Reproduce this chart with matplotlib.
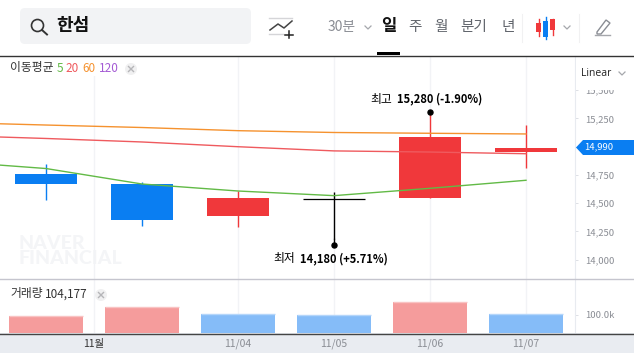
import numpy as np
import matplotlib
matplotlib.use("Agg")
import matplotlib.pyplot as plt
from matplotlib.patches import FancyBboxPatch, Rectangle, Polygon, Circle

plt.rcParams['font.family'] = ['Noto Sans CJK KR', 'DejaVu Sans']

# candles
days = [0, 1, 2, 3, 4, 5]
opens = [14760, 14670, 14390, 14540, 14550, 14950]
closes = [14670, 14350, 14550, 14540, 15090, 14990]
highs = [14850, 14690, 14610, 14600, 15280, 15190]
lows = [14530, 14300, 14290, 14180, 14550, 14810]
volumes = [93000, 143000, 105000, 100000, 170000, 104177]
volume_up = [True, True, False, False, True, False]

# moving averages, first point is the day before the visible range
ma_days = [-1, 0, 1, 2, 3, 4, 5]
ma5 = [14870, 14807, 14670, 14608, 14567, 14632, 14703]
ma20 = [15100, 15073, 15042, 15000, 14963, 14953, 14938]
ma60 = [15215, 15192, 15170, 15142, 15126, 15119, 15113]

price_ticks = [14000, 14250, 14500, 14750, 15000, 15250, 15500]
price_labels = ['14,000', '14,250', '14,500', '14,750', '', '15,250', '15,500']
date_ticks = [0.5, 2, 3, 4, 5]
date_labels = ['11월', '11/04', '11/05', '11/06', '11/07']

RED = '#f0383b'
BLUE = '#0a7ef2'
W, H = 634, 353


def axes_px(x0, y0, x1, y1, zorder):
    a = fig.add_axes([x0 / W, 1 - y1 / H, (x1 - x0) / W, (y1 - y0) / H], zorder=zorder)
    a.patch.set_alpha(0)
    return a


fig = plt.figure(figsize=(6.34, 3.53), dpi=100, facecolor='w')

# background, pixel coordinates
bg = axes_px(0, 0, W, H, 0)
bg.set_xlim(0, W)
bg.set_ylim(H, 0)
bg.axis('off')
bg.add_patch(Rectangle((0, 333), W, 20, color='#e9ecf1', lw=0))
bg.add_patch(FancyBboxPatch((20, 8), 231, 36, boxstyle='round,pad=0,rounding_size=5', lw=0, fc='#f2f3f5'))
bg.add_patch(Circle((37.5, 25.5), 6, fc='none', ec='#333333', lw=1.2))
bg.plot([42, 47], [30, 34.5], color='#333333', lw=1.4)
bg.text(56.5, 26, '한섬', fontsize=13, fontweight='bold', color='#111111', va='center', ha='left')

# add indicator icon
bg.plot([269, 292], [17.5, 17.5], color='#d5d5d8', lw=1)
bg.plot([269, 283], [33.5, 33.5], color='#d5d5d8', lw=1)
bg.plot([270, 278, 284, 292], [30, 24, 28, 21], color='#444444', lw=1.1)
bg.plot([288.5, 288.5], [31, 37.5], color='#222222', lw=1.1)
bg.plot([284.5, 292.5], [34.5, 34.5], color='#222222', lw=1.1)

# period tabs
bg.text(342, 27, '30분', fontsize=10, color='#8a8d94', ha='center', va='center')
bg.plot([365, 368, 371], [26, 29, 26], color='#a5a7ac', lw=0.9)
bg.text(388.5, 26, '일', fontsize=12, fontweight='bold', color='#111111', ha='center', va='center')
bg.text(415, 27, '주', fontsize=10.5, fontweight='medium', color='#60646b', ha='center', va='center')
bg.text(441, 27, '월', fontsize=10.5, fontweight='medium', color='#60646b', ha='center', va='center')
bg.text(474, 27, '분기', fontsize=10.5, fontweight='medium', color='#60646b', ha='center', va='center')
bg.text(508, 27, '년', fontsize=10.5, fontweight='medium', color='#60646b', ha='center', va='center')
bg.plot([521.5, 521.5], [14, 42], color='#f1f1f2', lw=0.8)
bg.plot([578.5, 578.5], [14, 42], color='#f1f1f2', lw=0.8)
bg.add_patch(Rectangle((377, 52), 23, 3, color='#000000', lw=0))

# chart type icon
bg.plot([538.5, 538.5], [19, 36], color=RED, lw=1)
bg.add_patch(Rectangle((536, 23), 5, 9, color=RED, lw=0))
bg.plot([545.5, 545.5], [17, 39], color=BLUE, lw=1)
bg.add_patch(Rectangle((543, 21), 5, 16, color=BLUE, lw=0))
bg.plot([552.5, 552.5], [19, 35], color=RED, lw=1)
bg.add_patch(Rectangle((550, 19), 5, 11, color=RED, lw=0))
bg.plot([564, 567, 570], [26, 29, 26], color='#a5a7ac', lw=0.9)

# pen icon
bg.plot([595, 610], [35, 35], color='#a5a7ac', lw=1)
bg.add_patch(Polygon([[597, 32], [606, 20], [610, 23], [601, 34], [597, 34]], fc='none', ec='#8a8d94', lw=1))

# price panel
ax = axes_px(0, 56, 575, 278, 1)
ax.set_xlim(-46 / 96, 529 / 96)
ax.set_ylim(13838, 15803)

for i in days:
    if closes[i] > opens[i]:
        c = RED
    elif closes[i] < opens[i]:
        c = BLUE
    else:
        c = 'black'
    ax.vlines(i, lows[i], highs[i], color=c, lw=1, zorder=2)
    if c == 'black':
        ax.hlines(closes[i], i - 0.325, i + 0.325, color=c, lw=0.9, zorder=2)
    else:
        ax.bar(i, abs(closes[i] - opens[i]), 0.656, bottom=min(opens[i], closes[i]), color=c, zorder=2)

ax.plot(ma_days, ma60, color='#f5922f', lw=1, zorder=3)
ax.plot(ma_days, ma20, color='#ef5a5e', lw=1, zorder=3)
ax.plot(ma_days, ma5, color='#62ba46', lw=1, zorder=3)

# high and low markers
ax.plot([4, 4], [15280, 15310], color=RED, lw=1, zorder=2)
ax.plot(4, 15310, 'o', color='black', ms=3.6, zorder=4)
ax.plot([3, 3], [14180, 14130], color='black', lw=1, zorder=2)
ax.plot(3, 14130, 'o', color='black', ms=3.6, zorder=4)
ax.text(3.6, 15420, '최고', fontsize=8.5, ha='right', va='center')
ax.text(3.66, 15420, '15,280 (-1.90%)', fontsize=8, fontweight='bold', ha='left', va='center')
ax.text(2.59, 14010, '최저', fontsize=8.5, ha='right', va='center')
ax.text(2.65, 14010, '14,180 (+5.71%)', fontsize=8, fontweight='bold', ha='left', va='center')

ax.text(-0.29, 14077, 'NAVER\nFINANCIAL', fontsize=14, fontweight='black', family='Lato',
        color='#f4f5f7', ha='left', va='center', linespacing=0.85, zorder=0)

ax.set_xticks(date_ticks)
ax.xaxis.grid(True, color='#f2f3f6', lw=1)
ax.set_axisbelow(True)
ax.tick_params(axis='x', length=0, labelbottom=False)
ax.yaxis.tick_right()
ax.set_yticks(price_ticks)
ax.set_yticklabels(price_labels)
ax.tick_params(axis='y', length=2, width=0.7, color='#dde0e5', labelsize=6.8, labelcolor='#8a8d94', pad=5)
for s in ['top', 'left', 'bottom']:
    ax.spines[s].set_visible(False)
ax.spines['right'].set_color('#e8ebf0')

# volume panel
vax = axes_px(0, 278, 575, 333, 1)
vax.set_xlim(ax.get_xlim())
vax.set_ylim(0, 305000)
vol_colors = ['#f59c9c' if u else '#85bcf8' for u in volume_up]
vol_tops = ['#f9c3c3' if u else '#b5d6fa' for u in volume_up]
vax.bar(days, volumes, 0.78, color=vol_colors, zorder=2)
vax.hlines(volumes, np.array(days) - 0.39, np.array(days) + 0.39, colors=vol_tops, lw=1, zorder=3)
vax.set_xticks(date_ticks)
vax.set_xticklabels(date_labels)
vax.xaxis.grid(True, color='#f2f3f6', lw=1, zorder=1)
vax.set_axisbelow(True)
vax.tick_params(axis='x', length=0, labelsize=7.5, labelcolor='#8a8d94', pad=4)
vax.get_xticklabels()[0].set_color('#333333')
vax.yaxis.tick_right()
vax.set_yticks([100000])
vax.set_yticklabels(['100.0k'])
vax.tick_params(axis='y', length=2, width=0.7, color='#dde0e5', labelsize=6.8, labelcolor='#8a8d94', pad=5)
for s in ['top', 'left', 'bottom']:
    vax.spines[s].set_visible(False)
vax.spines['right'].set_color('#e8ebf0')

# foreground chrome
fg = axes_px(0, 0, W, H, 3)
fg.set_xlim(0, W)
fg.set_ylim(H, 0)
fg.axis('off')
fg.add_patch(Rectangle((0, 56), 140, 20, color='white', lw=0))
fg.plot([0, W], [55.5, 55.5], color='#333333', lw=1)
fg.plot([0, W], [278.5, 278.5], color='#c5c5ce', lw=1)
fg.plot([0, W], [333.5, 333.5], color='#444444', lw=1)
fg.add_patch(Rectangle((576, 57), 58, 33, color='white', lw=0))
fg.text(581, 73, 'Linear', fontsize=7.5, color='#222222', family='Open Sans', va='center')
fg.plot([619, 622, 625], [72, 75, 72], color='#a5a7ac', lw=0.9)

fg.add_patch(Polygon([[576, 147.5], [583, 140], [634, 140], [634, 155], [583, 155]], color=BLUE, lw=0))
fg.text(584, 147, '14,990', fontsize=6.8, color='white', va='center')

fg.text(10, 68, '이동평균', fontsize=8.5, color='#333333', va='center')
legend_x = [59.5, 72.5, 89, 108.5]
legend_txt = ['5', '20', '60', '120']
legend_col = ['#62ba46', '#ef5a5e', '#f5922f', '#a45bd4']
for x, t, c in zip(legend_x, legend_txt, legend_col):
    fg.text(x, 68, t, fontsize=8.5, color=c, va='center', ha='center')
fg.add_patch(Circle((131, 69), 6, fc='#f0f0f1', lw=0))
fg.plot([128.5, 133.5], [66.5, 71.5], color='#b5b5b8', lw=1)
fg.plot([128.5, 133.5], [71.5, 66.5], color='#b5b5b8', lw=1)

fg.text(10, 294, '거래량', fontsize=8.5, color='#333333', va='center')
fg.text(45, 294, '104,177', fontsize=8.5, color='#333333', va='center')
fg.add_patch(Circle((101, 295), 6, fc='#f0f0f1', lw=0))
fg.plot([98.5, 103.5], [292.5, 297.5], color='#b5b5b8', lw=1)
fg.plot([98.5, 103.5], [297.5, 292.5], color='#b5b5b8', lw=1)

plt.savefig('out.png', dpi=100)
